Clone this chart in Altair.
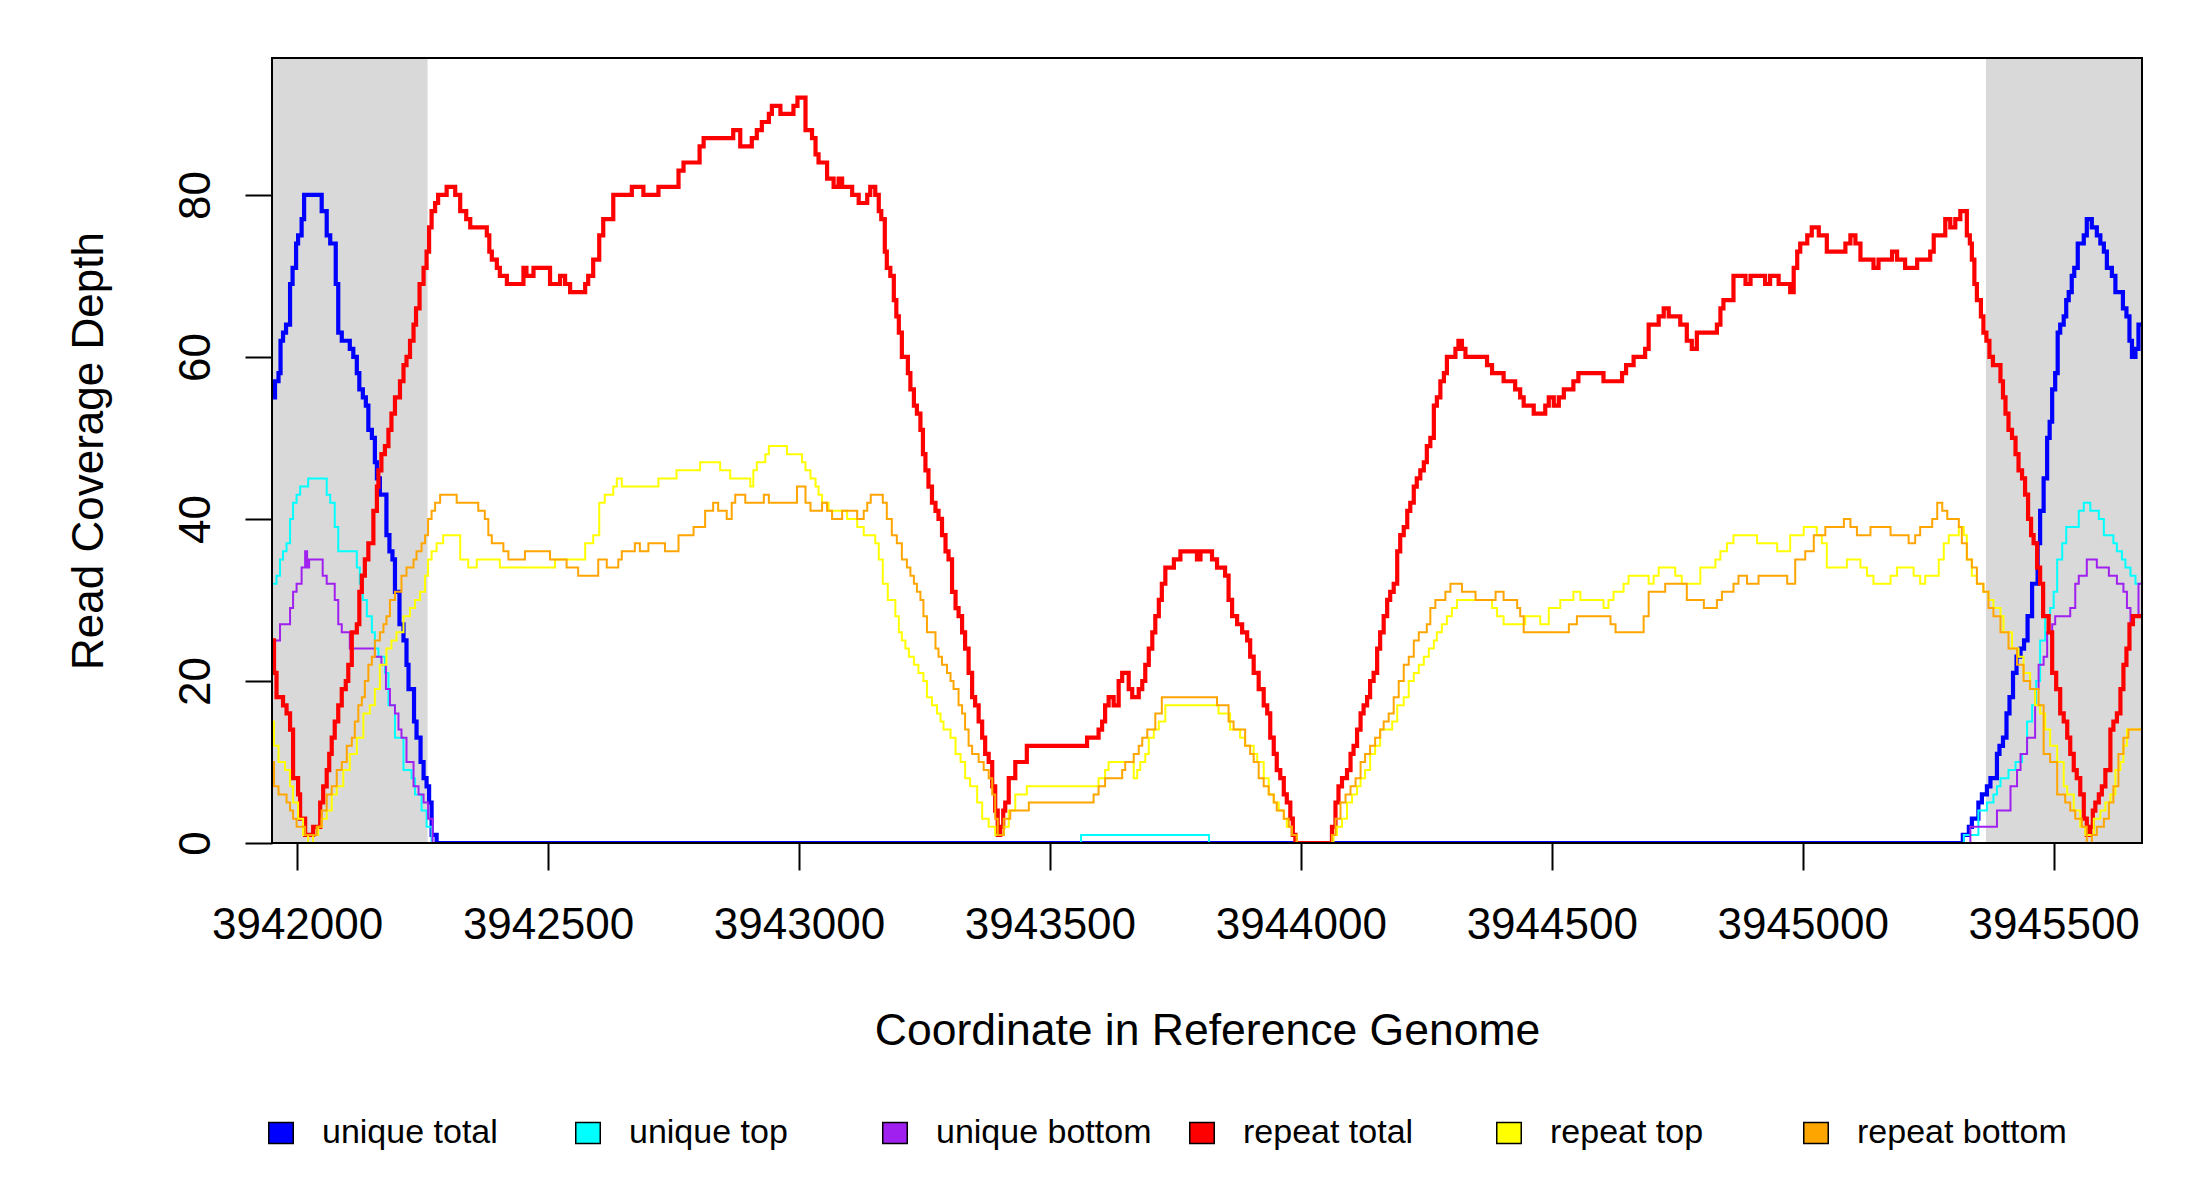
import altair as alt
import pandas as pd

# ---------------- data ----------------
X_MIN, X_MAX = 3941950, 3945676
Y_MAX = 96.9
X_TICKS = [3942000, 3942500, 3943000, 3943500, 3944000, 3944500, 3945000, 3945500]
Y_TICKS = [0, 20, 40, 60, 80]

SERIES = ["unique total", "unique top", "unique bottom", "repeat total", "repeat top", "repeat bottom"]
COLORS = ["#0000FF", "#00FFFF", "#A020F0", "#FF0000", "#FFFF00", "#FFA500"]
WIDTHS = [4.2, 2.0, 2.0, 4.2, 2.0, 2.0]

SHADE_START = [3941950, 3945365]
SHADE_END = [3942260, 3945676]

UNIQUE_TOTAL = [(3941950,55),(3941956,57),(3941963,58),(3941967,62),(3941972,63),(3941978,64),(3941986,69),(3941991,71),(3941998,74),(3942002,75),(3942009,77),(3942014,80),(3942049,78),(3942059,75),(3942066,74),(3942077,69),(3942082,63),(3942089,62),(3942105,61),(3942112,60),(3942119,58),(3942124,56),(3942131,55),(3942137,54),(3942142,51),(3942149,50),(3942155,47),(3942159,45),(3942165,43),(3942178,38),(3942184,36),(3942190,35),(3942195,31),(3942204,27),(3942212,25),(3942218,22),(3942222,19),(3942233,15),(3942238,13),(3942246,10),(3942252,8),(3942258,7),(3942263,5),(3942268,1),(3942278,0),
    (3945319,1),(3945331,2),(3945337,3),(3945350,5),(3945357,6),(3945367,7),(3945374,8),(3945387,11),(3945392,12),(3945399,13),(3945406,16),(3945412,18),(3945419,21),(3945426,23),(3945434,24),(3945441,25),(3945448,28),(3945457,32),(3945468,37),(3945473,41),(3945480,45),(3945487,50),(3945492,52),(3945497,56),(3945503,58),(3945508,63),(3945513,64),(3945520,65),(3945525,67),(3945530,68),(3945536,70),(3945541,71),(3945548,74),(3945560,75),(3945566,77),(3945576,76),(3945586,75),(3945593,74),(3945600,73),(3945606,71),(3945616,70),(3945623,68),(3945638,66),(3945645,65),(3945651,62),(3945656,60),(3945663,61),(3945669,64),(3945676,64)]

UNIQUE_TOP = [(3941950,32),(3941959,33),(3941966,35),(3941972,36),(3941979,37),(3941986,40),(3941992,42),(3941999,43),(3942006,44),(3942022,45),(3942059,43),(3942066,42),(3942075,39),(3942082,36),(3942119,34),(3942125,32),(3942131,30),(3942139,28),(3942149,26),(3942155,24),(3942162,23),(3942175,21),(3942182,17),(3942195,13),(3942212,9),(3942228,8),(3942235,6),(3942248,4),(3942258,2),(3942268,0),
    (3943562,1),(3943817,0),
    (3945321,1),(3945350,4),(3945367,5),(3945380,6),(3945387,7),(3945394,8),(3945410,9),(3945424,10),(3945437,11),(3945447,15),(3945457,17),(3945465,20),(3945473,25),(3945483,28),(3945493,29),(3945500,31),(3945507,35),(3945517,37),(3945525,39),(3945550,41),(3945560,42),(3945573,41),(3945590,40),(3945600,38),(3945619,37),(3945626,36),(3945636,35),(3945643,34),(3945653,33),(3945663,32),(3945676,32)]

UNIQUE_BOTTOM = [(3941950,23),(3941956,25),(3941966,27),(3941986,29),(3941992,31),(3941999,32),(3942009,34),(3942016,36),(3942020,34),(3942024,35),(3942051,33),(3942059,32),(3942075,30),(3942082,27),(3942089,26),(3942105,24),(3942155,23),(3942168,22),(3942177,19),(3942185,17),(3942195,16),(3942202,14),(3942208,13),(3942218,10),(3942232,7),(3942242,6),(3942252,5),(3942261,3),(3942270,0),
    (3945334,2),(3945387,4),(3945414,7),(3945427,9),(3945434,11),(3945447,13),(3945463,19),(3945470,22),(3945480,23),(3945487,26),(3945497,27),(3945503,28),(3945533,29),(3945543,32),(3945550,33),(3945566,35),(3945586,34),(3945610,33),(3945626,32),(3945639,31),(3945646,29),(3945653,27),(3945659,28),(3945669,32),(3945676,32)]

REPEAT_TOTAL = [(3941950,25),(3941954,21),(3941959,18),(3941972,17),(3941979,16),(3941986,14),(3941992,8),(3942002,6),(3942006,3),(3942016,1),(3942032,2),(3942046,5),(3942052,7),(3942059,9),(3942064,11),(3942069,13),(3942075,15),(3942082,17),(3942089,19),(3942097,20),(3942102,22),(3942109,26),(3942119,27),(3942124,31),(3942129,33),(3942135,35),(3942142,37),(3942152,41),(3942159,44),(3942162,46),(3942168,48),(3942175,49),(3942182,51),(3942188,53),(3942195,55),(3942205,57),(3942212,59),(3942218,60),(3942225,62),(3942232,64),(3942237,66),(3942244,69),(3942252,71),(3942258,73),(3942263,76),(3942268,78),(3942275,79),(3942281,80),(3942298,81),(3942315,80),(3942325,78),(3942337,77),(3942345,76),(3942378,75),(3942383,73),(3942388,72),(3942398,71),(3942404,70),(3942418,69),(3942451,71),(3942457,70),(3942471,71),(3942504,69),(3942524,70),(3942534,69),(3942544,68),(3942574,69),(3942580,70),(3942590,72),(3942602,75),(3942610,77),(3942630,80),(3942667,81),(3942690,80),(3942720,81),(3942760,83),(3942770,84),(3942802,86),(3942810,87),(3942869,88),(3942883,86),(3942906,87),(3942916,88),(3942926,89),(3942940,90),(3942946,91),(3942963,90),(3942989,91),(3942997,92),(3943013,88),(3943026,87),(3943033,85),(3943039,84),(3943056,82),(3943069,81),(3943079,82),(3943086,81),(3943106,80),(3943119,79),(3943136,80),(3943142,81),(3943152,80),(3943159,78),(3943164,77),(3943171,73),(3943175,71),(3943182,70),(3943189,67),(3943194,65),(3943199,63),(3943205,60),(3943217,58),(3943222,56),(3943229,54),(3943235,53),(3943242,51),(3943247,48),(3943252,46),(3943258,44),(3943265,42),(3943272,41),(3943278,40),(3943285,38),(3943292,36),(3943298,35),(3943305,31),(3943312,29),(3943318,28),(3943325,26),(3943331,24),(3943338,21),(3943345,18),(3943351,17),(3943358,15),(3943365,13),(3943371,11),(3943378,10),(3943385,7),(3943391,4),(3943396,1),(3943401,2),(3943407,4),(3943411,5),(3943418,8),(3943431,10),(3943454,12),(3943574,13),(3943597,14),(3943604,15),(3943610,17),(3943617,18),(3943627,17),(3943637,20),(3943644,21),(3943657,19),(3943664,18),(3943677,19),(3943684,20),(3943690,22),(3943697,24),(3943704,26),(3943710,28),(3943717,30),(3943723,32),(3943730,34),(3943747,35),(3943760,36),(3943793,35),(3943800,36),(3943823,35),(3943833,34),(3943849,33),(3943856,30),(3943863,28),(3943873,27),(3943883,26),(3943893,25),(3943899,23),(3943906,21),(3943916,19),(3943926,17),(3943933,16),(3943939,13),(3943946,11),(3943952,9),(3943959,8),(3943966,6),(3943972,5),(3943979,3),(3943984,1),(3943989,0),(3944062,2),(3944069,5),(3944075,7),(3944082,8),(3944092,9),(3944099,11),(3944105,12),(3944112,14),(3944119,16),(3944125,17),(3944132,18),(3944138,20),(3944145,21),(3944152,24),(3944158,26),(3944165,28),(3944172,30),(3944178,31),(3944185,32),(3944192,36),(3944198,38),(3944205,39),(3944212,41),(3944218,42),(3944225,44),(3944231,45),(3944238,46),(3944245,47),(3944251,49),(3944258,50),(3944265,54),(3944271,55),(3944278,57),(3944285,58),(3944291,60),(3944308,61),(3944314,62),(3944321,61),(3944328,60),(3944371,59),(3944381,58),(3944404,57),(3944427,56),(3944437,55),(3944444,54),(3944464,53),(3944487,54),(3944494,55),(3944504,54),(3944514,55),(3944524,56),(3944543,57),(3944553,58),(3944603,57),(3944640,58),(3944648,59),(3944663,60),(3944686,61),(3944693,64),(3944713,65),(3944723,66),(3944733,65),(3944756,64),(3944769,62),(3944779,61),(3944789,63),(3944829,64),(3944836,66),(3944842,67),(3944862,70),(3944886,69),(3944896,70),(3944925,69),(3944935,70),(3944952,69),(3944975,68),(3944982,71),(3944989,73),(3944995,74),(3945009,75),(3945018,76),(3945032,75),(3945048,73),(3945085,74),(3945095,75),(3945105,74),(3945115,72),(3945141,71),(3945151,72),(3945178,73),(3945188,72),(3945204,71),(3945228,72),(3945254,73),(3945261,75),(3945284,77),(3945294,76),(3945304,77),(3945314,78),(3945327,75),(3945333,74),(3945337,72),(3945342,69),(3945347,67),(3945355,65),(3945360,63),(3945366,62),(3945372,60),(3945379,59),(3945394,57),(3945399,55),(3945404,53),(3945410,51),(3945417,50),(3945424,48),(3945430,46),(3945437,45),(3945443,43),(3945449,40),(3945455,38),(3945460,37),(3945467,34),(3945473,32),(3945479,28),(3945490,26),(3945497,21),(3945505,19),(3945513,16),(3945520,15),(3945527,13),(3945533,11),(3945540,9),(3945546,8),(3945553,6),(3945560,3),(3945566,1),(3945573,2),(3945578,4),(3945583,5),(3945590,6),(3945596,7),(3945603,9),(3945613,14),(3945619,15),(3945626,16),(3945633,19),(3945639,22),(3945645,24),(3945651,27),(3945658,28),(3945676,28)]

REPEAT_TOP = [(3941950,15),(3941954,12),(3941963,10),(3941976,9),(3941986,7),(3941992,5),(3942002,3),(3942012,1),(3942022,0),(3942032,1),(3942042,2),(3942049,3),(3942059,4),(3942069,6),(3942079,7),(3942092,9),(3942105,11),(3942119,13),(3942132,16),(3942145,17),(3942155,19),(3942165,22),(3942178,24),(3942188,25),(3942198,26),(3942212,28),(3942225,29),(3942235,30),(3942245,31),(3942255,33),(3942261,35),(3942268,36),(3942278,37),(3942291,38),(3942325,35),(3942341,34),(3942358,35),(3942404,34),(3942514,35),(3942574,37),(3942590,38),(3942602,42),(3942613,43),(3942630,44),(3942637,45),(3942647,44),(3942720,45),(3942756,46),(3942803,47),(3942843,46),(3942863,45),(3942903,44),(3942909,46),(3942916,47),(3942933,48),(3942940,49),(3942976,48),(3943006,47),(3943013,46),(3943023,45),(3943033,44),(3943039,43),(3943046,42),(3943059,41),(3943096,40),(3943116,39),(3943129,38),(3943152,37),(3943159,35),(3943167,32),(3943177,30),(3943192,28),(3943199,26),(3943205,25),(3943212,24),(3943219,23),(3943229,22),(3943238,21),(3943248,20),(3943255,18),(3943265,17),(3943275,16),(3943282,15),(3943288,14),(3943302,13),(3943312,11),(3943322,10),(3943331,8),(3943341,7),(3943355,5),(3943365,3),(3943378,2),(3943391,1),(3943408,2),(3943418,4),(3943431,6),(3943454,7),(3943597,8),(3943610,9),(3943617,10),(3943667,8),(3943674,9),(3943680,10),(3943690,11),(3943697,13),(3943707,14),(3943717,15),(3943730,17),(3943836,16),(3943859,14),(3943879,13),(3943889,12),(3943906,11),(3943913,10),(3943926,8),(3943936,6),(3943946,5),(3943956,4),(3943966,3),(3943972,2),(3943982,1),(3943992,0),(3944065,1),(3944072,2),(3944082,3),(3944092,5),(3944102,6),(3944112,7),(3944119,8),(3944128,9),(3944138,11),(3944148,12),(3944158,14),(3944182,15),(3944192,17),(3944205,18),(3944215,20),(3944225,21),(3944235,22),(3944245,23),(3944255,24),(3944265,25),(3944271,26),(3944281,27),(3944291,28),(3944301,29),(3944311,30),(3944381,29),(3944391,28),(3944404,27),(3944447,28),(3944477,27),(3944494,29),(3944517,30),(3944543,31),(3944557,30),(3944603,29),(3944613,30),(3944623,31),(3944643,32),(3944653,33),(3944693,32),(3944703,33),(3944713,34),(3944746,33),(3944759,32),(3944796,34),(3944826,35),(3944836,36),(3944849,37),(3944862,38),(3944909,37),(3944949,36),(3944975,38),(3945002,39),(3945028,38),(3945038,37),(3945048,34),(3945088,35),(3945115,34),(3945128,33),(3945141,32),(3945175,33),(3945188,34),(3945221,33),(3945234,32),(3945244,33),(3945271,35),(3945281,37),(3945291,38),(3945311,39),(3945321,38),(3945327,35),(3945337,33),(3945347,32),(3945360,31),(3945370,30),(3945380,29),(3945394,28),(3945400,26),(3945417,24),(3945430,23),(3945440,21),(3945453,19),(3945463,17),(3945473,16),(3945483,14),(3945493,12),(3945507,10),(3945520,7),(3945527,6),(3945540,4),(3945553,2),(3945563,1),(3945580,3),(3945593,4),(3945603,5),(3945613,6),(3945623,9),(3945633,10),(3945639,12),(3945646,14),(3945676,14)]

REPEAT_BOTTOM = [(3941950,10),(3941954,7),(3941963,6),(3941979,5),(3941986,4),(3941992,3),(3941999,2),(3942016,1),(3942039,2),(3942049,4),(3942059,6),(3942069,7),(3942079,9),(3942089,10),(3942099,12),(3942109,13),(3942115,15),(3942122,17),(3942129,18),(3942135,20),(3942142,22),(3942149,23),(3942155,25),(3942165,26),(3942172,27),(3942178,28),(3942185,30),(3942195,31),(3942208,33),(3942218,34),(3942232,35),(3942238,36),(3942248,37),(3942255,38),(3942261,40),(3942268,41),(3942275,42),(3942285,43),(3942318,42),(3942361,41),(3942374,40),(3942381,38),(3942388,37),(3942411,36),(3942421,35),(3942454,36),(3942504,35),(3942537,34),(3942560,33),(3942600,35),(3942617,34),(3942640,35),(3942647,36),(3942673,37),(3942683,36),(3942700,37),(3942733,36),(3942760,38),(3942790,39),(3942813,41),(3942829,42),(3942839,41),(3942856,40),(3942866,42),(3942873,43),(3942893,42),(3942930,43),(3942940,42),(3942996,44),(3943013,42),(3943023,41),(3943046,42),(3943056,41),(3943066,40),(3943086,41),(3943116,40),(3943129,41),(3943136,42),(3943143,43),(3943167,42),(3943175,40),(3943185,38),(3943195,37),(3943205,35),(3943215,34),(3943222,33),(3943229,32),(3943235,31),(3943242,30),(3943248,28),(3943255,26),(3943272,24),(3943278,23),(3943285,22),(3943295,21),(3943302,20),(3943308,19),(3943318,17),(3943325,16),(3943331,14),(3943338,12),(3943345,11),(3943358,10),(3943368,9),(3943378,8),(3943385,6),(3943391,3),(3943396,1),(3943408,3),(3943421,4),(3943458,5),(3943587,6),(3943597,7),(3943610,8),(3943644,9),(3943650,10),(3943667,11),(3943677,12),(3943684,13),(3943694,14),(3943710,16),(3943723,18),(3943833,17),(3943856,15),(3943866,14),(3943889,12),(3943899,11),(3943906,10),(3943916,8),(3943926,7),(3943936,6),(3943946,5),(3943952,4),(3943966,3),(3943976,2),(3943982,1),(3943992,0),(3944062,1),(3944069,3),(3944079,5),(3944089,6),(3944099,7),(3944109,8),(3944119,10),(3944128,11),(3944138,12),(3944148,13),(3944158,14),(3944165,15),(3944175,16),(3944185,18),(3944195,20),(3944205,22),(3944215,23),(3944225,25),(3944235,26),(3944251,27),(3944258,29),(3944268,30),(3944288,31),(3944298,32),(3944321,31),(3944348,30),(3944388,31),(3944404,30),(3944431,29),(3944437,28),(3944444,26),(3944534,27),(3944550,28),(3944617,27),(3944627,26),(3944683,28),(3944693,31),(3944726,32),(3944769,30),(3944803,29),(3944829,30),(3944839,31),(3944862,32),(3944872,33),(3944889,32),(3944912,33),(3944969,32),(3944985,35),(3945005,36),(3945022,38),(3945045,39),(3945082,40),(3945095,39),(3945108,38),(3945135,39),(3945175,38),(3945211,37),(3945224,38),(3945234,39),(3945258,40),(3945268,42),(3945278,41),(3945288,40),(3945311,39),(3945317,37),(3945327,35),(3945337,34),(3945347,32),(3945360,31),(3945370,29),(3945380,28),(3945394,26),(3945410,24),(3945427,22),(3945440,20),(3945453,19),(3945470,17),(3945480,11),(3945493,10),(3945507,6),(3945523,5),(3945533,4),(3945543,3),(3945556,2),(3945566,0),(3945576,1),(3945586,2),(3945600,3),(3945610,5),(3945619,7),(3945629,11),(3945639,13),(3945649,14),(3945676,14)]

SERIES_DATA = [UNIQUE_TOTAL, UNIQUE_TOP, UNIQUE_BOTTOM, REPEAT_TOTAL, REPEAT_TOP, REPEAT_BOTTOM]

# ---------------- chart ----------------
W, H = 1870, 785
FONT = "Liberation Sans"

xscale = alt.Scale(domain=[X_MIN, X_MAX], nice=False, zero=False)
yscale = alt.Scale(domain=[0, Y_MAX], nice=False, zero=False)

xaxis = alt.Axis(values=X_TICKS, format="d", domain=False, grid=False,
                 tickSize=27, tickWidth=2, tickColor="black",
                 labelFont=FONT, labelFontSize=44, labelColor="black",
                 labelPadding=68, labelBaseline="alphabetic", labelAlign="center",
                 labelFlush=False, labelOverlap=False,
                 titleFont=FONT, titleFontSize=44.5, titleFontWeight="normal", titleColor="black",
                 titleX=W / 2, titleY=201, titleBaseline="alphabetic", titleAlign="center")
yaxis = alt.Axis(values=Y_TICKS, domain=False, grid=False,
                 tickSize=27, tickWidth=2, tickColor="black",
                 labelFont=FONT, labelFontSize=44, labelColor="black",
                 labelAngle=270, labelAlign="center", labelBaseline="alphabetic",
                 labelPadding=36, labelFlush=False, labelOverlap=False,
                 titleFont=FONT, titleFontSize=44, titleFontWeight="normal", titleColor="black",
                 titleAngle=270, titleX=-170, titleY=H / 2, titleBaseline="alphabetic",
                 titleAlign="center")

XT = "Coordinate in Reference Genome"
YT = "Read Coverage Depth"

shade_df = pd.DataFrame({"start": SHADE_START, "end": SHADE_END,
                         "lo": [0, 0], "hi": [Y_MAX, Y_MAX]})
shade = alt.Chart(shade_df).mark_rect(color="#D9D9D9").encode(
    x=alt.X("start:Q", scale=xscale, axis=xaxis, title=XT),
    x2="end:Q",
    y=alt.Y("lo:Q", scale=yscale, axis=yaxis, title=YT),
    y2="hi:Q",
)

layers = [shade]
for name, color, width, pts in zip(SERIES, COLORS, WIDTHS, SERIES_DATA):
    df = pd.DataFrame(pts, columns=["pos", "depth"])
    df["series"] = name
    layers.append(
        alt.Chart(df).mark_line(interpolate="step-after", color=color,
                                strokeWidth=width, clip=True, strokeJoin="miter").encode(
            x=alt.X("pos:Q", scale=xscale, axis=xaxis, title=XT),
            y=alt.Y("depth:Q", scale=yscale, axis=yaxis, title=YT),
        )
    )

# hidden anchor squares (clipped away) that carry the legend
leg_df = pd.DataFrame({"series": SERIES, "pos": [X_MIN] * 6, "depth": [-50] * 6})
legend_layer = alt.Chart(leg_df).mark_square(size=600, clip=True, stroke="black",
                                             strokeWidth=1.5, opacity=1).encode(
    x=alt.X("pos:Q", scale=xscale, axis=xaxis, title=XT),
    y=alt.Y("depth:Q", scale=yscale, axis=yaxis, title=YT),
    fill=alt.Fill("series:N", scale=alt.Scale(domain=SERIES, range=COLORS),
                  legend=alt.Legend(title=None, orient="none", legendX=-8, legendY=1058,
                                    direction="horizontal", columns=6, gridAlign="all",
                                    columnPadding=33,
                                    symbolType="M-1,-0.85H1V0.85H-1Z", symbolSize=600,
                                    symbolStrokeColor="black", symbolStrokeWidth=1.5,
                                    symbolOpacity=1, labelFont=FONT, labelFontSize=34,
                                    labelColor="black", labelOffset=24, labelLimit=400,
                                    padding=0)),
)
layers.append(legend_layer)

frame = alt.Chart(shade_df).mark_rect(fillOpacity=0, stroke="black", strokeWidth=2).encode(
    x=alt.value(0), x2=alt.value(W), y=alt.value(0), y2=alt.value(H)
)
layers.append(frame)

chart = alt.layer(*layers).properties(
    width=W, height=H,
    padding={"left": 264, "top": 50, "right": 40, "bottom": 330},
    autosize=alt.AutoSizeParams(type="none"),
    background="white",
).configure_view(stroke=None)

chart.save("out.html", embed_options={"renderer": "svg", "actions": False})
